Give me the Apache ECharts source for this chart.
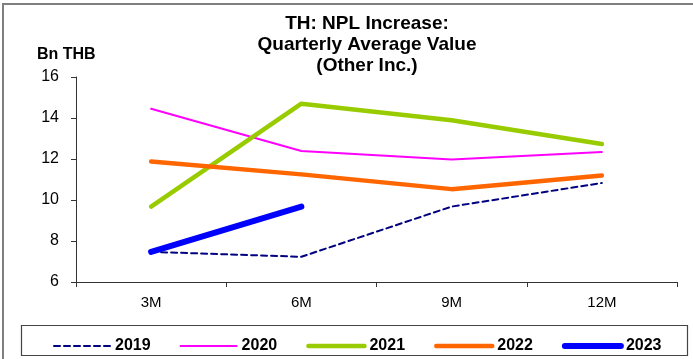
<!DOCTYPE html>
<html>
<head>
<meta charset="utf-8">
<script src="https://cdn.jsdelivr.net/npm/echarts@6/dist/echarts.min.js"></script>
<style>
  html, body { margin: 0; padding: 0; background: #fff; }
  #chart { width: 693px; height: 359px; }
</style>
</head>
<body>
<div id="chart"></div>
<script>
// Quarter-end points of each year
const categories = ['3M', '6M', '9M', '12M'];
const yTicks = [6, 8, 10, 12, 14, 16];

// NPL increase, quarterly average value (Bn THB)
const y2019 = [7.47, 7.23, 9.68, 10.83];
const y2020 = [14.45, 12.39, 11.97, 12.34];
const y2021 = [9.68, 14.70, 13.89, 12.73];
const y2022 = [11.88, 11.25, 10.53, 11.20];
const y2023 = [7.47, 9.68];

const FONT = '"Liberation Sans", Arial, sans-serif';
const AXIS = '#333';

const chart = echarts.init(document.getElementById('chart'));

function lineSeries(name, data, color, width, type) {
  return {
    name, type: 'line', data,
    symbol: 'none', smooth: false,
    lineStyle: { color, width, type: type || 'solid', cap: 'round', join: 'round' },
    itemStyle: { color },
    emphasis: { disabled: true }
  };
}

chart.setOption({
  animation: false,
  backgroundColor: '#fff',
  textStyle: { fontFamily: FONT },
  title: {
    text: 'TH: NPL Increase:\nQuarterly Average Value\n(Other Inc.)',
    left: 362, top: 8, textAlign: 'center',
    textStyle: { fontFamily: FONT, fontSize: 19, fontWeight: 'bold', color: '#000', lineHeight: 21 }
  },
  graphic: [
    { type: 'rect', shape: { x: 3, y: 4, width: 720, height: 400 },
      style: { fill: 'none', stroke: '#7f7f7f', lineWidth: 2 }, silent: true },
    { type: 'rect', shape: { x: 21.5, y: 325.5, width: 666, height: 30 },
      style: { fill: '#fff', stroke: '#444', lineWidth: 1.2 }, silent: true, z: -1 },
    { type: 'text', left: 37, top: 47,
      style: { text: 'Bn THB', font: 'bold 16px ' + FONT, fill: '#000' } }
  ],
  legend: {
    left: 48, top: 333,
    itemWidth: 56, itemHeight: 14, itemGap: 29,
    itemStyle: { opacity: 0 },
    lineStyle: { width: 'inherit', type: 'inherit', cap: 'round' },
    textStyle: { fontFamily: FONT, fontSize: 16, fontWeight: 'bold', color: '#000' },
    data: ['2019', '2020', '2021', '2022', '2023'],
    selectedMode: false
  },
  grid: { left: 76, right: 16, top: 77, bottom: 77, containLabel: false },
  xAxis: {
    type: 'category', data: categories, boundaryGap: true,
    axisLine: { lineStyle: { color: AXIS, width: 1 } },
    axisTick: { show: true, alignWithLabel: false, length: 5, lineStyle: { color: AXIS } },
    axisLabel: { fontFamily: FONT, fontSize: 15, color: '#000', margin: 13 },
    splitLine: { show: false }
  },
  yAxis: {
    type: 'value', min: yTicks[0], max: yTicks[yTicks.length - 1], interval: 2,
    axisLine: { show: true, lineStyle: { color: AXIS, width: 1 } },
    axisTick: { show: true, length: 5, lineStyle: { color: AXIS } },
    axisLabel: { fontFamily: FONT, fontSize: 16, color: '#000', margin: 17 },
    splitLine: { show: false }
  },
  series: [
    lineSeries('2019', y2019, '#000080', 2, [6, 4]),
    lineSeries('2020', y2020, '#ff00ff', 2),
    lineSeries('2021', y2021, '#99cc00', 4.5),
    lineSeries('2022', y2022, '#ff6600', 4.5),
    lineSeries('2023', y2023, '#0000ff', 6)
  ]
});
</script>
</body>
</html>
